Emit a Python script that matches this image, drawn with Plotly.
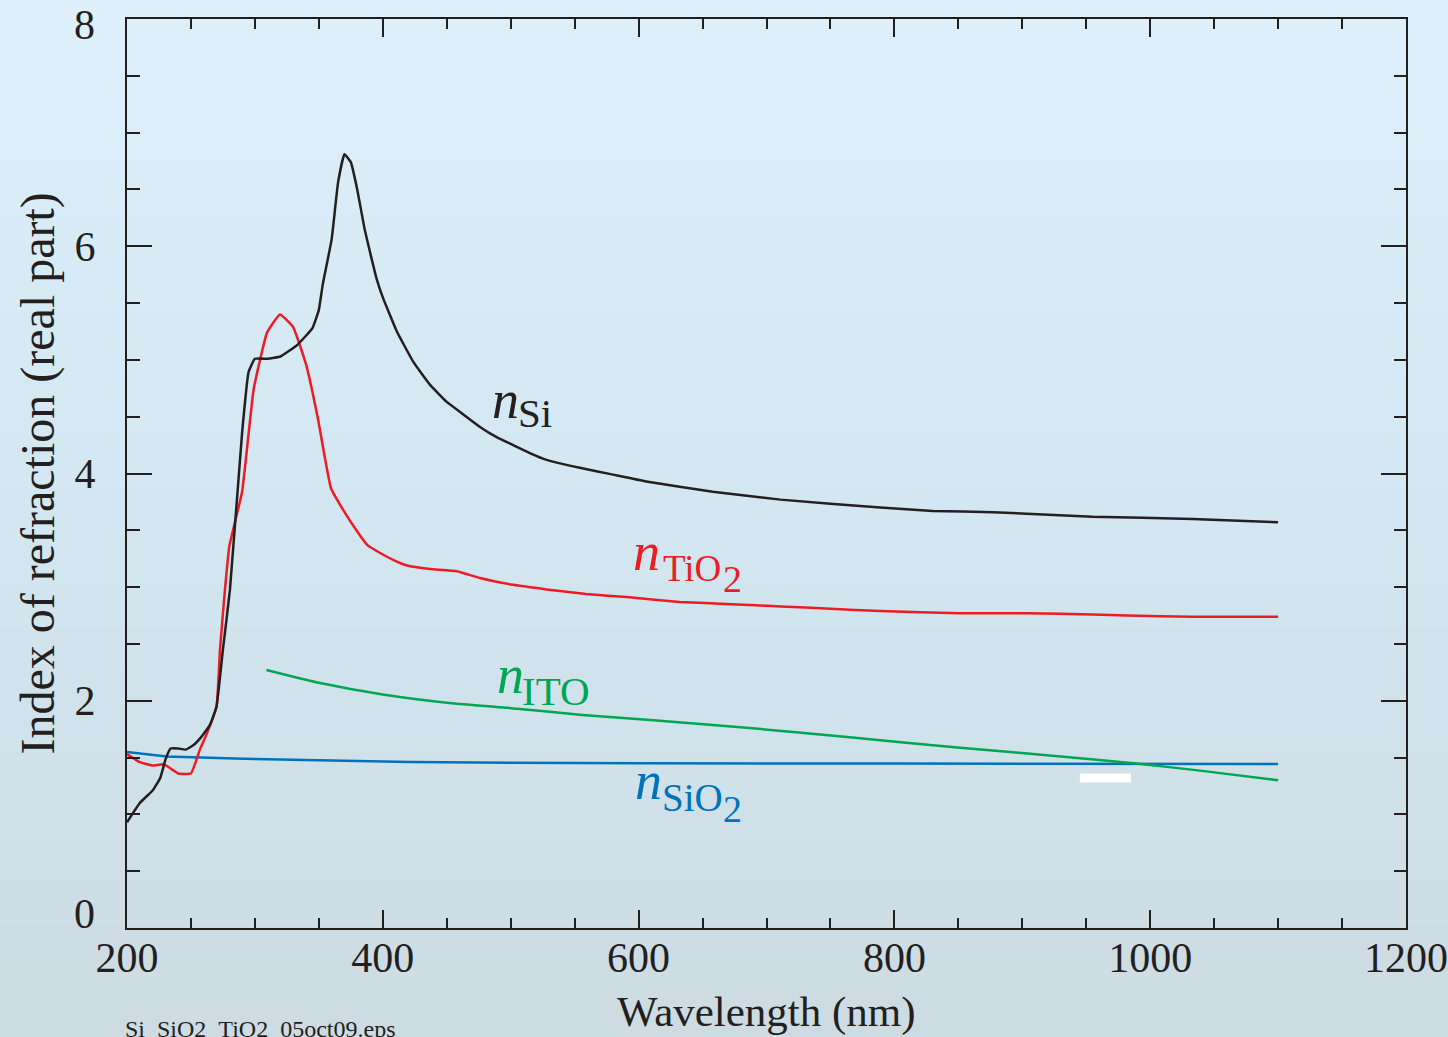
import base64
import struct
import zlib

import plotly.graph_objects as go

# ---- refractive index data (real part) ----
si_wl = [200, 210, 220, 226, 230, 234, 240, 246, 252, 258, 265, 270, 275, 280.5, 290, 295,
         300, 310, 320, 333, 345, 350, 353, 360, 365, 370, 375, 380, 386, 395, 400, 411,
         424, 437, 450, 463, 476, 489, 502, 515, 528, 554, 580, 606, 658, 711, 789, 830,
         877, 955, 1033, 1100]
si_n = [0.93, 1.10, 1.21, 1.32, 1.48, 1.58, 1.58, 1.57, 1.61, 1.68, 1.79, 1.95, 2.45, 2.98, 4.36, 4.89,
        5.01, 5.01, 5.03, 5.13, 5.28, 5.44, 5.66, 6.06, 6.56, 6.81, 6.74, 6.50, 6.14, 5.72, 5.55, 5.25,
        4.98, 4.78, 4.63, 4.52, 4.41, 4.32, 4.25, 4.18, 4.12, 4.05, 3.99, 3.93, 3.84, 3.77, 3.70, 3.67,
        3.66, 3.62, 3.60, 3.57]

tio2_wl = [200, 210, 220, 229, 240, 250, 257, 262, 270, 272.7, 276.6, 280, 290, 299, 309.5,
           319.6, 329.8, 340, 349, 359.5, 369, 380, 388, 398, 408, 419, 437, 458, 476, 502,
           528, 559, 593, 632, 672, 711, 750, 789, 851, 904, 955, 982, 1033, 1100]
tio2_n = [1.53, 1.46, 1.43, 1.44, 1.36, 1.36, 1.57, 1.70, 1.95, 2.45, 2.98, 3.36, 3.84, 4.74, 5.24,
          5.40, 5.29, 4.96, 4.50, 3.87, 3.68, 3.49, 3.37, 3.30, 3.24, 3.19, 3.16, 3.14, 3.08, 3.02,
          2.98, 2.94, 2.91, 2.87, 2.85, 2.83, 2.81, 2.79, 2.77, 2.77, 2.76, 2.75, 2.74, 2.74]

ito_wl = [309, 349, 400, 452, 505, 556, 609, 687, 763, 847, 930, 987, 1039, 1100]
ito_n = [2.27, 2.16, 2.055, 1.98, 1.93, 1.875, 1.83, 1.76, 1.68, 1.59, 1.51, 1.45, 1.385, 1.30]

sio2_wl = [200, 231, 291, 350, 421, 500, 600, 800, 1000, 1100]
sio2_n = [1.55, 1.51, 1.49, 1.475, 1.46, 1.455, 1.45, 1.447, 1.445, 1.443]

x_ticks = [200, 400, 600, 800, 1000, 1200]
y_ticks = [0, 2, 4, 6, 8]
y_tick_text = ["", "2", "4", "6", ""]   # end labels are drawn separately, nudged inside the range

BLACK = "#231f20"
RED = "#ed1c24"
GREEN = "#00a651"
BLUE = "#0072bc"
SERIF = "Liberation Serif"


def gradient_png(stops, height=256):
    """Build a 1-pixel-wide vertical gradient PNG as a data URI."""
    rows = b""
    for i in range(height):
        t = i / (height - 1)
        for (t0, c0), (t1, c1) in zip(stops[:-1], stops[1:]):
            if t0 <= t <= t1:
                f = (t - t0) / (t1 - t0) if t1 > t0 else 0
                rgb = [round(a + (b - a) * f) for a, b in zip(c0, c1)]
                break
        rows += b"\x00" + bytes(rgb)
    def chunk(tag, data):
        c = struct.pack(">I", len(data)) + tag + data
        return c + struct.pack(">I", zlib.crc32(tag + data) & 0xFFFFFFFF)
    png = b"\x89PNG\r\n\x1a\n"
    png += chunk(b"IHDR", struct.pack(">IIBBBBB", 1, height, 8, 2, 0, 0, 0))
    png += chunk(b"IDAT", zlib.compress(rows))
    png += chunk(b"IEND", b"")
    return "data:image/png;base64," + base64.b64encode(png).decode()


bg = gradient_png([(0.0, (221, 240, 251)), (0.5, (210, 231, 241)), (1.0, (205, 219, 226))])

W, H = 1448, 1037
ML, MR, MT, MB = 127, 42, 19, 109
PW, PH = W - ML - MR, H - MT - MB

fig = go.Figure()
fig.add_trace(go.Scatter(x=sio2_wl, y=sio2_n, mode="lines", line=dict(color=BLUE, width=2.5)))
fig.add_trace(go.Scatter(x=ito_wl, y=ito_n, mode="lines",
                         line=dict(color=GREEN, width=2.5, shape="spline", smoothing=0.5)))
fig.add_trace(go.Scatter(x=tio2_wl, y=tio2_n, mode="lines",
                         line=dict(color=RED, width=2.5, shape="spline", smoothing=0.35)))
fig.add_trace(go.Scatter(x=si_wl, y=si_n, mode="lines",
                         line=dict(color=BLACK, width=2.5, shape="spline", smoothing=0.35)))

# small white bar near the SiO2 / ITO crossing
fig.add_shape(type="rect", x0=945, x1=985, y0=1.28, y1=1.36,
              fillcolor="white", line=dict(width=0), layer="above")


def label(parts, color):
    for text, x, y, size, italic in parts:
        fig.add_annotation(x=x, y=y, xref="x", yref="y", text=f"<i>{text}</i>" if italic else text,
                           showarrow=False, xanchor="left", yanchor="middle",
                           font=dict(family=SERIF, size=size, color=color))


label([("n", 483.8, 4.65, 54, True), ("Si", 504.1, 4.53, 41, False)], BLACK)
label([("n", 594.1, 3.31, 54, True), ("TiO", 617.5, 3.16, 37, False), ("2", 664.5, 3.07, 38, False)], RED)
label([("n", 487.7, 2.23, 54, True), ("ITO", 507.3, 2.09, 41, False)], GREEN)
label([("n", 596.0, 1.29, 54, True), ("SiO", 616.5, 1.147, 39, False), ("2", 664.5, 1.05, 38, False)], BLUE)

# end tick labels of the y axis, kept inside the axis span
for txt, yv in [("0", 0.12), ("8", 7.95)]:
    fig.add_annotation(x=(97 - ML) / PW, y=yv, xref="paper", yref="y", text=txt, showarrow=False,
                       xanchor="right", yanchor="middle", font=dict(family=SERIF, size=42, color=BLACK))

# axis titles and file tag
fig.add_annotation(x=0.5, y=(928 - 1012) / PH, xref="paper", yref="paper",
                   text="Wavelength (nm)", showarrow=False, xanchor="center", yanchor="middle",
                   font=dict(family=SERIF, size=43, color=BLACK))
fig.add_annotation(x=(37 - ML) / PW, y=0.5, xref="paper", yref="paper",
                   text="Index of refraction (real part)", textangle=-90, showarrow=False,
                   xanchor="center", yanchor="middle",
                   font=dict(family=SERIF, size=48, color=BLACK))
fig.add_annotation(x=(123 - ML) / PW, y=(928 - 1014) / PH, xref="paper", yref="paper",
                   text="Si_SiO2_TiO2_05oct09.eps", showarrow=False, xanchor="left", yanchor="top",
                   font=dict(family=SERIF, size=24, color=BLACK))

axis_common = dict(showline=True, linecolor=BLACK, linewidth=2, mirror="allticks",
                   ticks="inside", tickwidth=2, tickcolor=BLACK, showgrid=False, zeroline=False,
                   automargin=False, ticklabeloverflow="allow",
                   tickfont=dict(family=SERIF, size=42, color=BLACK))

fig.update_xaxes(range=[200, 1200], tickvals=x_ticks, ticklen=18, ticklabelstandoff=-8,
                 minor=dict(dtick=50, ticklen=10, tickwidth=2, tickcolor=BLACK, ticks="inside"),
                 **axis_common)
fig.update_yaxes(range=[0, 8], tickvals=y_ticks, ticktext=y_tick_text, ticklen=25,
                 ticklabelstandoff=21,
                 minor=dict(dtick=0.5, ticklen=12.5, tickwidth=2, tickcolor=BLACK, ticks="inside"),
                 **axis_common)

fig.update_layout(
    width=W, height=H,
    margin=dict(l=ML, r=MR, t=MT, b=MB, pad=0, autoexpand=False),
    showlegend=False,
    paper_bgcolor="rgb(212,230,240)",
    plot_bgcolor="rgba(0,0,0,0)",
    images=[dict(source=bg, xref="paper", yref="paper", x=-ML / PW, y=1 + MT / PH,
                 sizex=W / PW, sizey=H / PH, sizing="stretch", xanchor="left", yanchor="top",
                 layer="below")],
)

fig.write_html("out.html", config={"displayModeBar": False})
